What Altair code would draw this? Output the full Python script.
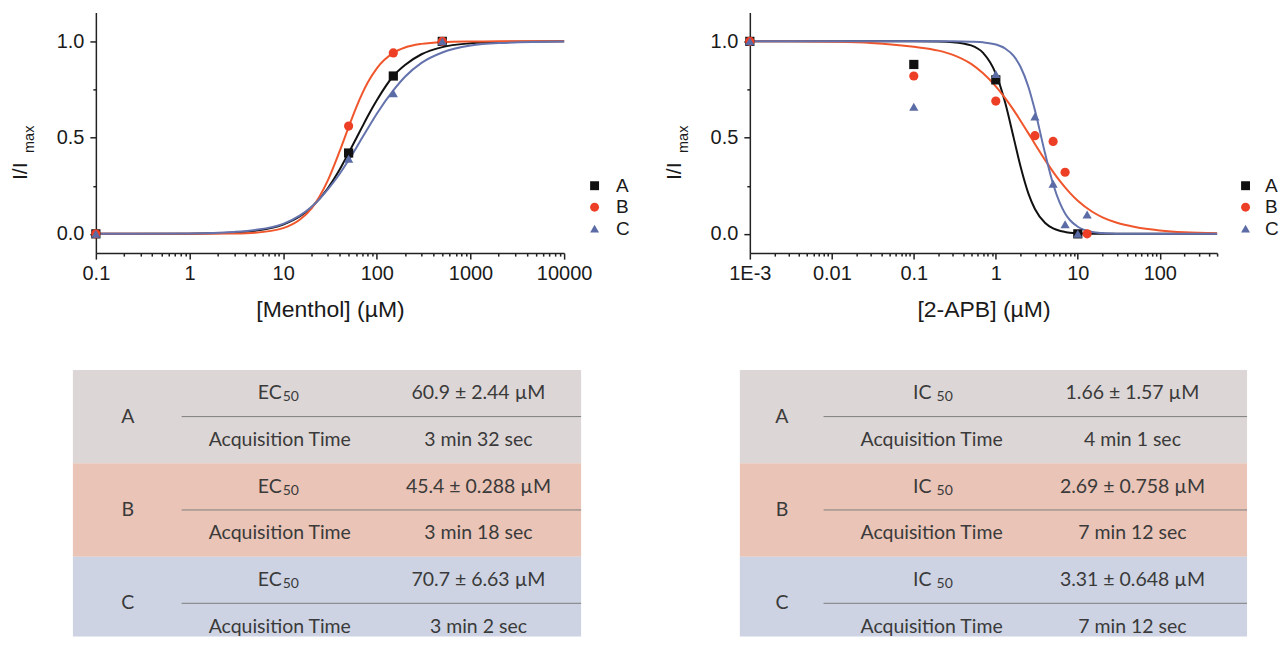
import altair as alt
import pandas as pd

# ---------------- data ----------------
SERIES = ["A", "B", "C"]

# Menthol dose-response (measured points)
MENTHOL_X = [0.1, 50, 150, 500]
MENTHOL_A = [0.0, 0.42, 0.82, 1.0]
MENTHOL_B = [0.0, 0.56, 0.94, 1.0]
MENTHOL_C = [0.0, 0.39, 0.73, 1.0]

# Menthol fitted curves
MENTHOL_CURVE_X = [0.1, 1, 3, 5, 10, 15, 20, 30, 40, 50, 60, 70, 80, 100, 150,
                   200, 300, 500, 1000, 2000, 10000]
MENTHOL_CURVE_A = [0.000, 0.001, 0.007, 0.016, 0.048, 0.090, 0.137, 0.237, 0.333, 0.420,
                   0.494, 0.557, 0.611, 0.694, 0.820, 0.877, 0.933, 0.970, 0.990, 0.997, 1.000]
MENTHOL_CURVE_B = [0.000, 0.000, 0.002, 0.006, 0.030, 0.073, 0.131, 0.278, 0.428, 0.555,
                   0.655, 0.730, 0.786, 0.860, 0.940, 0.968, 0.987, 0.996, 0.999, 1.000, 1.000]
MENTHOL_CURVE_C = [0.000, 0.002, 0.010, 0.020, 0.052, 0.095, 0.140, 0.231, 0.311, 0.383,
                   0.445, 0.500, 0.547, 0.624, 0.745, 0.816, 0.888, 0.942, 0.978, 0.991, 0.999]

# 2-APB dose-response (measured points)
APB_A_X = [0.001, 0.1, 1, 10]
APB_A_Y = [1.0, 0.88, 0.80, 0.0]
APB_B_X = [0.001, 0.1, 1, 3, 5, 7, 13]
APB_B_Y = [1.0, 0.82, 0.69, 0.51, 0.48, 0.32, 0.0]
APB_C_X = [0.001, 0.1, 1, 3, 5, 7, 10, 13]
APB_C_Y = [1.0, 0.66, 0.83, 0.61, 0.26, 0.05, 0.0, 0.10]

# 2-APB fitted curves
APB_CURVE_X = [0.001, 0.003, 0.01, 0.03, 0.1, 0.2, 0.3, 0.5, 0.7, 1, 1.3, 1.65, 2, 2.5,
               3, 4, 5, 6, 7, 8, 10, 15, 20, 30, 50, 100, 200, 500]
APB_CURVE_A = [1.000, 1.000, 1.000, 1.000, 1.000, 0.999, 0.996, 0.979, 0.940, 0.832, 0.682,
               0.500, 0.351, 0.209, 0.129, 0.056, 0.028, 0.016, 0.010, 0.006, 0.003, 0.001,
               0.000, 0.000, 0.000, 0.000, 0.000, 0.000]
APB_CURVE_B = [1.000, 1.000, 0.998, 0.992, 0.972, 0.952, 0.930, 0.883, 0.834, 0.766, 0.705,
               0.643, 0.588, 0.522, 0.467, 0.383, 0.322, 0.276, 0.241, 0.213, 0.172, 0.115,
               0.086, 0.058, 0.036, 0.018, 0.008, 0.003]
APB_CURVE_C = [1.000, 1.000, 1.000, 1.000, 1.000, 1.000, 1.000, 0.998, 0.995, 0.984, 0.963,
               0.924, 0.868, 0.763, 0.642, 0.416, 0.259, 0.163, 0.106, 0.072, 0.037, 0.010,
               0.004, 0.001, 0.000, 0.000, 0.000, 0.000]

# axis ticks
MENTHOL_TICKS = [0.1, 1, 10, 100, 1000, 10000]
MENTHOL_TICK_LABELS = ["0.1", "1", "10", "100", "1000", "10000"]
APB_TICKS = [0.001, 0.01, 0.1, 1, 10, 100]
APB_TICK_LABELS = ["1E-3", "0.01", "0.1", "1", "10", "100"]
Y_TICKS = [0.0, 0.5, 1.0]
Y_TICK_LABELS = ["0.0", "0.5", "1.0"]
Y_MINOR = [0.25, 0.75]

# tables
GROUPS = ["A", "B", "C"]
TIME_LABEL = "Acquisition Time"
MENTHOL_STAT = ("EC", "50")
MENTHOL_VALUES = ["60.9 ± 2.44 µM", "45.4 ± 0.288 µM", "70.7 ± 6.63 µM"]
MENTHOL_TIMES = ["3 min 32 sec", "3 min 18 sec", "3 min 2 sec"]
APB_STAT = ("IC", "50")
APB_VALUES = ["1.66 ± 1.57 µM", "2.69 ± 0.758 µM", "3.31 ± 0.648 µM"]
APB_TIMES = ["4 min 1 sec", "7 min 12 sec", "7 min 12 sec"]

# ---------------- style ----------------
SERIES_COLORS = ["#111111", "#ec3f26", "#5b6ba6"]
LINE_COLORS = ["#111111", "#f0562c", "#6473ad"]
SERIES_SHAPES = ["square", "circle", "triangle-up"]
BAND_COLORS = ["#ddd6d6", "#e9c4b7", "#cdd3e3"]
PLOT_FONT = "Liberation Sans"
TABLE_FONT = "Lato"
TEXT_COLOR = "#1a1a1a"
TABLE_TEXT = "#3a3a3a"

PLOT_H = 241
TABLE_H = 267
ROW_UNIT = 46.75


def minor_ticks(first_exp, last_exp, upto):
    vals = []
    for e in range(first_exp, last_exp + 1):
        for m in range(2, 10):
            v = round(m * 10 ** e, 10)
            if v <= upto:
                vals.append(v)
    return vals


def long_frame(xs_list, ys_list):
    rows = []
    for s, xs, ys in zip(SERIES, xs_list, ys_list):
        for x, y in zip(xs, ys):
            rows.append({"series": s, "x": x, "y": y})
    return pd.DataFrame(rows)


def js_list(vals, quote=False):
    if quote:
        return "[" + ",".join("'" + v + "'" for v in vals) + "]"
    return "[" + ",".join(repr(v) for v in vals) + "]"


def dose_chart(points, curve, x_domain, major, major_labels, minor, x_title,
               width, legend_x, label_offset):
    maj = js_list(major)
    labs = js_list(major_labels, quote=True)
    x_axis = alt.Axis(
        values=major + minor,
        labelExpr=f"indexof({maj}, datum.value) >= 0 ? {labs}[indexof({maj}, datum.value)] : ''",
        tickSize={"condition": {"test": f"indexof({maj}, datum.value) >= 0", "value": 6}, "value": 3},
        labelFlush=False, labelOverlap=False, labelPadding=4,
        labelFont=PLOT_FONT, labelFontSize=20, labelColor=TEXT_COLOR,
        title=x_title, titleFont=PLOT_FONT, titleFontSize=23, titleFontWeight="normal",
        titleColor=TEXT_COLOR, titlePadding=15,
        domainColor="#222222", domainWidth=1.5, tickColor="#222222", tickWidth=1.5,
        grid=False,
    )
    ymaj = js_list(Y_TICKS)
    ylabs = js_list(Y_TICK_LABELS, quote=True)
    y_axis = alt.Axis(
        values=Y_TICKS + Y_MINOR,
        labelExpr=f"indexof({ymaj}, datum.value) >= 0 ? {ylabs}[indexof({ymaj}, datum.value)] : ''",
        tickSize={"condition": {"test": f"indexof({ymaj}, datum.value) >= 0", "value": 6}, "value": 3},
        labelOverlap=False, labelPadding=6,
        labelFont=PLOT_FONT, labelFontSize=20, labelColor=TEXT_COLOR,
        title=None,
        domainColor="#222222", domainWidth=1.5, tickColor="#222222", tickWidth=1.5,
        grid=False,
    )
    xs = alt.Scale(type="log", domain=x_domain, nice=False)
    ys = alt.Scale(domain=[-0.1, 1.15], nice=False, zero=False)
    cs = alt.Scale(domain=SERIES, range=SERIES_COLORS)
    ss = alt.Scale(domain=SERIES, range=SERIES_SHAPES)
    leg = alt.Legend(title=None, orient="none", legendX=legend_x, legendY=164,
                     symbolSize=80, labelFont=PLOT_FONT, labelFontSize=19,
                     labelColor=TEXT_COLOR, labelOffset=label_offset, rowPadding=1.5,
                     padding=0, symbolStrokeWidth=0)

    layers = []
    for s, lc in zip(SERIES, LINE_COLORS):
        layers.append(
            alt.Chart(curve).transform_filter(alt.datum.series == s)
            .mark_line(strokeWidth=2, interpolate="monotone", color=lc)
            .encode(
                x=alt.X("x:Q", scale=xs, axis=x_axis),
                y=alt.Y("y:Q", scale=ys, axis=y_axis),
            )
        )
    pts = alt.Chart(points).mark_point(filled=True, size=85, opacity=1).encode(
        x=alt.X("x:Q", scale=xs, axis=x_axis),
        y=alt.Y("y:Q", scale=ys, axis=y_axis),
        color=alt.Color("series:N", scale=cs, legend=leg),
        shape=alt.Shape("series:N", scale=ss, legend=leg),
    )
    layers.append(pts)
    ytitle_main = alt.Chart(pd.DataFrame({"t": ["I/I"]})).mark_text(
        font=PLOT_FONT, fontSize=21, angle=270, align="center", baseline="alphabetic",
        color=TEXT_COLOR,
    ).encode(text="t:N", x=alt.value(-69), y=alt.value(159))
    ytitle_sub = alt.Chart(pd.DataFrame({"t": ["max"]})).mark_text(
        font=PLOT_FONT, fontSize=14.5, angle=270, align="center", baseline="alphabetic",
        color=TEXT_COLOR,
    ).encode(text="t:N", x=alt.value(-62), y=alt.value(127))
    layers += [ytitle_main, ytitle_sub]
    return alt.layer(*layers).properties(width=width, height=PLOT_H)


def table_chart(stat, values, times, x_range, width, colx, stat_dx):
    bands = pd.DataFrame({
        "band": GROUPS,
        "y0": [2 * i for i in range(len(GROUPS))],
        "y1": [2 * i + 2 for i in range(len(GROUPS))],
        "x0": [0.0] * len(GROUPS),
        "x1": [1.0] * len(GROUPS),
    })
    seps = pd.DataFrame({
        "y": [2 * i + 1 for i in range(len(GROUPS))],
        "x0": [colx["sep"]] * len(GROUPS),
        "x1": [1.0] * len(GROUPS),
    })
    cells = []
    stats = []
    for i, g in enumerate(GROUPS):
        cells.append({"x": colx["letter"], "y": 2 * i + 1, "text": g})
        cells.append({"x": colx["label"], "y": 2 * i + 1.5, "text": TIME_LABEL})
        cells.append({"x": colx["value"], "y": 2 * i + 0.5, "text": values[i]})
        cells.append({"x": colx["value"], "y": 2 * i + 1.5, "text": times[i]})
        stats.append({"x": colx["label"], "y": 2 * i + 0.5, "main": stat[0], "sub": stat[1]})
    cells = pd.DataFrame(cells)
    stats = pd.DataFrame(stats)

    xs = alt.Scale(domain=[0, 1], range=x_range, nice=False, zero=False)
    ys = alt.Scale(domain=[0, TABLE_H / ROW_UNIT], range=[0, TABLE_H], nice=False,
                   zero=False, clamp=True)

    rect = alt.Chart(bands).mark_rect().encode(
        x=alt.X("x0:Q", scale=xs, axis=None), x2="x1:Q",
        y=alt.Y("y0:Q", scale=ys, axis=None), y2="y1:Q",
        color=alt.Color("band:N", scale=alt.Scale(domain=GROUPS, range=BAND_COLORS), legend=None),
    )
    rules = alt.Chart(seps).mark_rule(color="#7d7d7d", strokeWidth=1).encode(
        x=alt.X("x0:Q", scale=xs, axis=None), x2="x1:Q",
        y=alt.Y("y:Q", scale=ys, axis=None),
    )
    text = alt.Chart(cells).mark_text(font=TABLE_FONT, fontSize=19.5, color=TABLE_TEXT,
                                      align="center", baseline="middle").encode(
        x=alt.X("x:Q", scale=xs, axis=None),
        y=alt.Y("y:Q", scale=ys, axis=None),
        text="text:N",
    )
    main = alt.Chart(stats).mark_text(font=TABLE_FONT, fontSize=19.5, color=TABLE_TEXT,
                                      align="right", baseline="middle", dx=stat_dx[0]).encode(
        x=alt.X("x:Q", scale=xs, axis=None),
        y=alt.Y("y:Q", scale=ys, axis=None),
        text="main:N",
    )
    sub = alt.Chart(stats).mark_text(font=TABLE_FONT, fontSize=14, color=TABLE_TEXT,
                                     align="left", baseline="middle", dx=stat_dx[1], dy=4).encode(
        x=alt.X("x:Q", scale=xs, axis=None),
        y=alt.Y("y:Q", scale=ys, axis=None),
        text="sub:N",
    )
    return alt.layer(rect, rules, text, main, sub).properties(width=width, height=TABLE_H)


menthol_points = long_frame([MENTHOL_X] * 3, [MENTHOL_A, MENTHOL_B, MENTHOL_C])
menthol_curve = long_frame([MENTHOL_CURVE_X] * 3,
                           [MENTHOL_CURVE_A, MENTHOL_CURVE_B, MENTHOL_CURVE_C])
apb_points = long_frame([APB_A_X, APB_B_X, APB_C_X], [APB_A_Y, APB_B_Y, APB_C_Y])
apb_curve = long_frame([APB_CURVE_X] * 3, [APB_CURVE_A, APB_CURVE_B, APB_CURVE_C])

menthol_plot = dose_chart(menthol_points, menthol_curve, [0.1, 10000], MENTHOL_TICKS,
                          MENTHOL_TICK_LABELS, minor_ticks(-1, 3, 10000),
                          "[Menthol] (µM)", 469, 490, 12)
apb_plot = dose_chart(apb_points, apb_curve, [0.001, 500], APB_TICKS, APB_TICK_LABELS,
                      minor_ticks(-3, 2, 500), "[2-APB] (µM)", 468, 487, 10)

menthol_table = table_chart(MENTHOL_STAT, MENTHOL_VALUES, MENTHOL_TIMES, [-23, 486], 469,
                            {"letter": 0.108, "sep": 0.214, "label": 0.407, "value": 0.798},
                            (2, 3))
apb_table = table_chart(APB_STAT, APB_VALUES, APB_TIMES, [-10, 498], 468,
                        {"letter": 0.083, "sep": 0.165, "label": 0.378, "value": 0.774},
                        (0, 5))

chart = alt.concat(
    menthol_plot, apb_plot, menthol_table, apb_table,
    columns=2, spacing={"row": 117, "column": 186}, bounds="flush",
).resolve_scale(
    color="independent", shape="independent"
).resolve_legend(
    color="independent", shape="independent"
).properties(
    padding={"left": 2, "top": 4, "right": 0, "bottom": 0}
).configure_view(stroke=None)

chart.save("out.html", embed_options={"renderer": "svg", "actions": False})
